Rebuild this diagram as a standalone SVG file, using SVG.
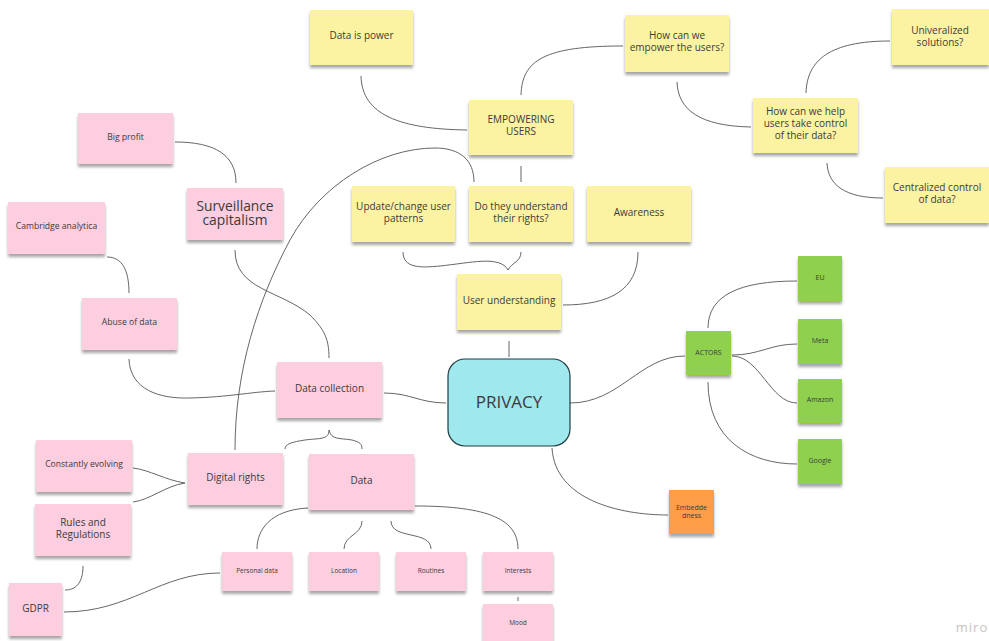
<svg xmlns="http://www.w3.org/2000/svg" width="989" height="641" viewBox="0 0 989 641">
<style>
text{font-family:"Open Sans","Liberation Sans",sans-serif;fill:#3b3b3b;text-anchor:middle}
.y rect{fill:#fbf3a2}
.p rect{fill:#fdcde0}
.g rect{fill:#8fd14f}
.o rect{fill:#ff9d48}
.n rect{filter:url(#sh)}
.t10{font-size:10px}
.t9{font-size:8.6px}
.t7{font-size:7px}
.t6{font-size:6.5px}
#connectors path{fill:none;stroke:#555;stroke-width:0.9}
</style>
<defs>
<filter id="sh" x="-10%" y="-10%" width="120%" height="140%">
<feDropShadow dx="0" dy="3" stdDeviation="1.6" flood-color="#000" flood-opacity="0.35"/>
</filter>
</defs>
<rect width="989" height="641" fill="#ffffff"/>
<g id="connectors">
<path d="M361,76 C362,115 400,129 467,130"/>
<path d="M521,95 C522,60 545,46 623,46"/>
<path d="M677,82 C678,110 700,126 751,127"/>
<path d="M806,93 C807,60 830,41 890,41"/>
<path d="M827,163 C828,185 845,198 883,198"/>
<path d="M521,166 L521,182"/>
<path d="M474,182 C474,160 460,148 435,148 C380,148 320,185 290,240 C258,300 235,370 235,450"/>
<path d="M403,252 C403,268 420,268 440,266 C470,263 500,255 508,270"/>
<path d="M521,252 C521,262 512,262 508,270"/>
<path d="M638,252 C638,290 610,305 563,305"/>
<path d="M509,341 L509,357"/>
<path d="M384,393 C410,393 420,403 446,403"/>
<path d="M235,250 C235,290 280,290 310,315 C325,330 329,340 329,358"/>
<path d="M175,142 C215,142 236,155 236,183"/>
<path d="M107,257 C122,257 129,270 129,293"/>
<path d="M129,359 C130,390 160,399 190,398 C230,397 250,392 275,391"/>
<path d="M329,430 C329,440 320,438 305,440 C292,442 285,444 285,449"/>
<path d="M329,430 C331,440 340,438 352,440 C360,442 362,444 362,449"/>
<path d="M185,483 C165,480 150,470 133,468"/>
<path d="M185,483 C165,486 150,500 133,502"/>
<path d="M308,508 C270,510 257,530 257,549"/>
<path d="M362,521 C362,535 344,535 344,549"/>
<path d="M391,521 C391,540 431,530 431,549"/>
<path d="M415,506 C490,506 518,520 518,549"/>
<path d="M518,597 L518,601"/>
<path d="M83,566 C83,580 78,590 65,590"/>
<path d="M64,612 C130,612 160,573 220,573"/>
<path d="M570,403 C620,403 640,356 685,356"/>
<path d="M708,328 C708,295 740,281 797,281"/>
<path d="M732,355 C760,355 770,344 797,344"/>
<path d="M732,356 C760,356 770,403 797,403"/>
<path d="M708,382 C708,440 750,464 797,464"/>
<path d="M552,448 C555,500 620,515 668,515"/>
</g>
<g id="data-is-power" class="n y"><rect x="310" y="10" width="103" height="55"/><text class="t10" x="361.5" y="38.5">Data is power</text></g>
<g id="empower-users-q" class="n y"><rect x="625" y="15" width="104" height="57"/><text class="t10" x="677" y="38.5">How can we<tspan x="677" dy="12">empower the users?</tspan></text></g>
<g id="empowering-users" class="n y"><rect x="469" y="100" width="104" height="55"/><text class="t10" x="521" y="122.5">EMPOWERING<tspan x="521" dy="12">USERS</tspan></text></g>
<g id="update-patterns" class="n y"><rect x="352" y="186" width="103" height="56"/><text class="t10" x="403.5" y="210">Update/change user<tspan x="403.5" dy="12">patterns</tspan></text></g>
<g id="understand-rights" class="n y"><rect x="469" y="186" width="104" height="56"/><text class="t10" x="521" y="210">Do they understand<tspan x="521" dy="12">their rights?</tspan></text></g>
<g id="awareness" class="n y"><rect x="587" y="186" width="104" height="56"/><text class="t10" x="639" y="215.5">Awareness</text></g>
<g id="user-understanding" class="n y"><rect x="457" y="274" width="104" height="56"/><text class="t10" x="509" y="303.5">User understanding</text></g>
<g id="universalized" class="n y"><rect x="892" y="9" width="97" height="56"/><text class="t10" x="940" y="34">Univeralized<tspan x="940" dy="12">solutions?</tspan></text></g>
<g id="help-control" class="n y"><rect x="753" y="98" width="105" height="55"/><text class="t10" x="805.5" y="115">How can we help<tspan x="805.5" dy="12">users take control</tspan><tspan x="805.5" dy="12">of their data?</tspan></text></g>
<g id="centralized" class="n y"><rect x="885" y="167" width="104" height="56"/><text class="t10" x="937" y="191">Centralized control<tspan x="937" dy="12">of data?</tspan></text></g>
<g id="big-profit" class="n p"><rect x="78" y="113" width="95" height="51"/><text class="t9" x="125.5" y="140">Big profit</text></g>
<g id="surveillance" class="n p"><rect x="187" y="188" width="96" height="52"/><text x="235" y="211" style="font-size:13.8px">Surveillance<tspan x="235" dy="13.5">capitalism</tspan></text></g>
<g id="cambridge" class="n p"><rect x="8" y="202" width="97" height="52"/><text class="t9" x="56.5" y="229">Cambridge analytica</text></g>
<g id="abuse" class="n p"><rect x="82" y="298" width="95" height="52"/><text class="t9" x="129.5" y="325">Abuse of data</text></g>
<g id="data-collection" class="n p"><rect x="277" y="362" width="105" height="56"/><text class="t10" x="329.5" y="391.5">Data collection</text></g>
<g id="constantly" class="n p"><rect x="36" y="440" width="96" height="52"/><text class="t9" x="84" y="467">Constantly evolving</text></g>
<g id="digital-rights" class="n p"><rect x="188" y="453" width="95" height="52"/><text class="t10" x="235.5" y="480.5">Digital rights</text></g>
<g id="data" class="n p"><rect x="309" y="454" width="105" height="56"/><text class="t10" x="361.5" y="483.5">Data</text></g>
<g id="rules" class="n p"><rect x="35" y="504" width="96" height="52"/><text class="t10" x="83" y="526">Rules and<tspan x="83" dy="12">Regulations</tspan></text></g>
<g id="gdpr" class="n p"><rect x="9" y="583" width="53" height="53"/><text class="t10" x="35.5" y="611.5">GDPR</text></g>
<g id="personal-data" class="n p"><rect x="222" y="552" width="70" height="39"/><text class="t6" x="257" y="572.5">Personal data</text></g>
<g id="location" class="n p"><rect x="309" y="552" width="70" height="39"/><text class="t6" x="344" y="572.5">Location</text></g>
<g id="routines" class="n p"><rect x="396" y="552" width="70" height="39"/><text class="t6" x="431" y="572.5">Routines</text></g>
<g id="interests" class="n p"><rect x="483" y="552" width="70" height="39"/><text class="t6" x="518" y="572.5">Interests</text></g>
<g id="mood" class="n p"><rect x="483" y="604" width="70" height="40"/><text class="t6" x="518" y="624.5">Mood</text></g>
<g id="privacy"><rect x="448" y="359" width="122" height="87" rx="17" fill="#9ee8ee" stroke="#213b40" stroke-width="1.2"/><text x="509" y="408" style="font-size:17px">PRIVACY</text></g>
<g id="actors" class="n g"><rect x="686" y="331" width="45" height="44"/><text class="t7" x="708.5" y="354.5">ACTORS</text></g>
<g id="eu" class="n g"><rect x="798" y="256" width="44" height="45"/><text class="t7" x="820" y="279.5">EU</text></g>
<g id="meta" class="n g"><rect x="798" y="319" width="44" height="45"/><text class="t7" x="820" y="342.5">Meta</text></g>
<g id="amazon" class="n g"><rect x="798" y="379" width="44" height="44"/><text class="t7" x="820" y="401.5">Amazon</text></g>
<g id="google" class="n g"><rect x="798" y="439" width="44" height="45"/><text class="t7" x="820" y="462.5">Google</text></g>
<g id="embeddedness" class="n o"><rect x="669" y="490" width="45" height="44"/><text class="t7" x="691.5" y="509.5">Embedde<tspan x="691.5" dy="8">dness</tspan></text></g>
<text x="972" y="632" style="font-size:13px;fill:#c4c4c4;letter-spacing:1px">miro</text>
</svg>
